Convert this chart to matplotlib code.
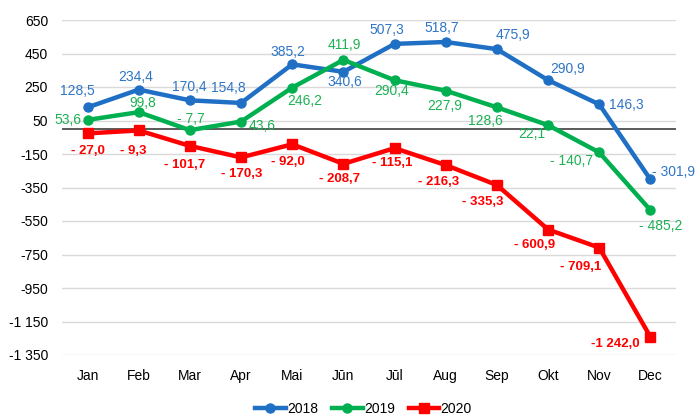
import matplotlib
matplotlib.use("Agg")
import matplotlib.pyplot as plt
from matplotlib import font_manager
from matplotlib.ticker import FuncFormatter, FixedLocator

months = ["Jan", "Feb", "Mar", "Apr", "Mai", "Jūn", "Jūl", "Aug", "Sep", "Okt", "Nov", "Dec"]
s2018 = [128.5, 234.4, 170.4, 154.8, 385.2, 340.6, 507.3, 518.7, 475.9, 290.9, 146.3, -301.9]
s2019 = [53.6, 99.8, -7.7, 43.6, 246.2, 411.9, 290.4, 227.9, 128.6, 22.1, -140.7, -485.2]
s2020 = [-27.0, -9.3, -101.7, -170.3, -92.0, -208.7, -115.1, -216.3, -335.3, -600.9, -709.1, -1242.0]
yticks = [650, 450, 250, 50, -150, -350, -550, -750, -950, -1150, -1350]

avail = {f.name for f in font_manager.fontManager.ttflist}
fam = "Liberation Sans Narrow" if "Liberation Sans Narrow" in avail else "Liberation Sans"
plt.rcParams['font.family'] = [fam, 'DejaVu Sans']

def fmt_num(v, dec=True):
    s = f"{abs(v):,.1f}" if dec else f"{abs(v):,.0f}"
    s = s.replace(",", " ").replace(".", ",")
    return s

def label_text(v):
    if v < 0:
        if abs(v) >= 1000:
            return "-" + fmt_num(v)
        return "- " + fmt_num(v)
    return fmt_num(v)

fig = plt.figure(figsize=(6.95, 4.17), dpi=100)
ax = fig.add_axes([62/695, 1-355/417, (676-62)/695, (355-20)/417])

x = list(range(len(months)))
c18, c19, c20 = "#1F6FC5", "#00B050", "#FF0000"
ax.plot(x, s2018, color=c18, lw=3.2, marker="o", ms=6.5, label="2018", zorder=4)
ax.plot(x, s2019, color=c19, lw=3.2, marker="o", ms=6.5, label="2019", zorder=4)
ax.plot(x, s2020, color=c20, lw=3.2, marker="s", ms=7.5, label="2020", zorder=4)
ax.axhline(0, color="#595959", lw=1.4, zorder=3)

ax.set_xlim(-0.5, 11.5)
ax.set_ylim(-1350, 650)
ax.yaxis.set_major_locator(FixedLocator(yticks))
ax.yaxis.set_major_formatter(FuncFormatter(lambda v, p: ("-" if v < 0 else "") + fmt_num(v, False)))
ax.set_xticks(x)
ax.set_xticklabels(months)
ax.grid(axis="y", color="#D9D9D9", lw=1)
ax.set_axisbelow(True)
for s in ax.spines.values():
    s.set_visible(False)
ax.tick_params(axis="both", length=0, labelsize=10, colors="#000000")
ax.tick_params(axis="y", pad=10)
ax.tick_params(axis="x", pad=10)

off18 = [(-10, 16), (-3, 13), (-1, 13), (-13, 15), (-4, 12), (1, -10), (-8, 14), (-4, 14), (16, 14), (19, 11), (27, -1), (23, 7)]
off19 = [(-20, 0), (4, 9), (1, 11), (21, -4), (13, -13), (1, 15), (-3, -11), (-1, -15), (-12, -14), (-16, -9), (-28, -9), (10, -16)]
off20 = [(0, -18), (-6, -21), (-5, -19), (1, -17), (-4, -18), (-4, -15), (-2, -15), (-7, -17), (-14, -17), (-14, -15), (-19, -19), (-35, -7)]

for series, offs, col, bold in [(s2018, off18, "#2E75C6", False), (s2019, off19, "#1DB054", False), (s2020, off20, c20, True)]:
    for i, (v, o) in enumerate(zip(series, offs)):
        ax.annotate(label_text(v), (i, v), xytext=o, textcoords="offset pixels",
                    ha="center", va="center", fontsize=9.5 if bold else 10, color=col,
                    fontweight="bold" if bold else "normal", zorder=5)

fig.legend(loc="lower center", bbox_to_anchor=(0.523, -0.028), ncol=3, frameon=False,
           fontsize=10, handlelength=2.2, handletextpad=0.1, columnspacing=1.0)

fig.savefig("out.png", dpi=100)
